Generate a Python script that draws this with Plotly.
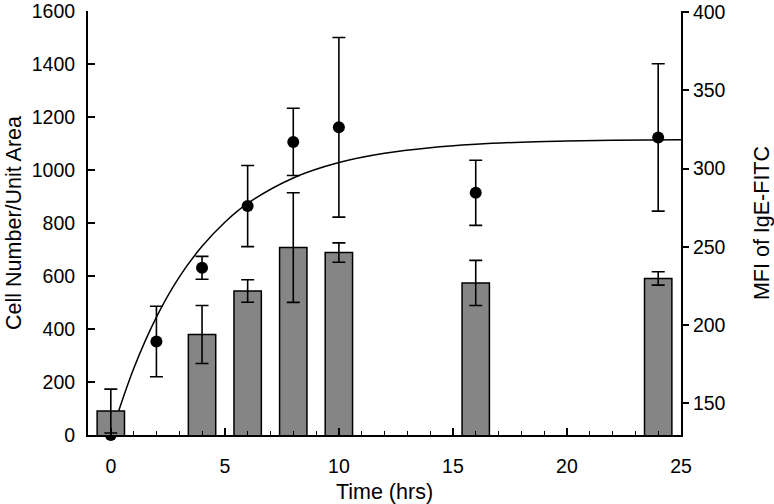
import plotly.graph_objects as go

# Data
time_pts = [0, 2, 4, 6, 8, 10, 16, 24]
cell_number = [0, 353, 631, 864, 1106, 1161, 914, 1123]
cell_err = [0, 133, 43, 153, 127, 339, 123, 278]

bar_time = [0, 4, 6, 8, 10, 16, 24]
mfi = [145.1, 194.0, 221.8, 249.5, 246.3, 226.9, 229.8]
mfi_err = [14, 18.5, 7.2, 35, 6.2, 14.4, 4.3]

curve_t = [0, 1, 2, 3, 4, 5, 6, 8, 10, 12, 14, 16, 18, 20, 22, 25]
curve_v = [0, 250, 445, 596, 712, 803, 874, 970, 1028, 1063, 1084, 1097, 1105, 1109, 1112, 1114]

font_family = "Liberation Sans, Arial, sans-serif"
tick_size = 19.5
title_size = 21.5

fig = go.Figure()

fig.add_trace(go.Scatter(
    x=curve_t, y=curve_v, mode="lines", line=dict(color="black", width=1.5, shape="spline"),
    yaxis="y", showlegend=False, hoverinfo="skip", cliponaxis=False))

fig.add_trace(go.Scatter(
    x=time_pts, y=cell_number, mode="markers",
    marker=dict(color="black", size=12),
    error_y=dict(type="data", array=cell_err, color="black", thickness=1.6, width=6.5),
    yaxis="y", showlegend=False, cliponaxis=False))

fig.add_trace(go.Bar(
    x=bar_time, y=mfi, width=1.2, base=0,
    marker=dict(color="#858585", line=dict(color="black", width=1.5)),
    error_y=dict(type="data", array=mfi_err, color="black", thickness=1.6, width=6.5),
    yaxis="y2", showlegend=False, cliponaxis=True))

fig.update_layout(
    width=774, height=504,
    margin=dict(l=88, r=93, t=11, b=69, autoexpand=False),
    paper_bgcolor="white", plot_bgcolor="white",
    font=dict(family=font_family, size=tick_size, color="black"),
    xaxis=dict(
        range=[-1, 25], tickvals=[0, 5, 10, 15, 20, 25],
        ticks="inside", ticklen=7, tickwidth=1.5, tickcolor="black",
        minor=dict(dtick=1, ticks="inside", ticklen=4, tickwidth=1.2, tickcolor="black"),
        showline=True, linecolor="black", linewidth=2, showgrid=False, zeroline=False,
        ticklabelstandoff=13, ticklabeloverflow="allow",
        title=dict(text="Time (hrs)", standoff=12, font=dict(size=title_size)),
        tickfont=dict(size=tick_size),
    ),
    yaxis=dict(
        range=[0, 1600], tickvals=[0, 200, 400, 600, 800, 1000, 1200, 1400, 1600],
        ticks="inside", ticklen=7, tickwidth=1.5, tickcolor="black",
        showline=True, linecolor="black", linewidth=2, showgrid=False, zeroline=False,
        ticklabelstandoff=7, ticklabeloverflow="allow",
        title=dict(text="Cell Number/Unit Area", standoff=4, font=dict(size=title_size)),
        tickfont=dict(size=tick_size),
    ),
    yaxis2=dict(
        range=[129.8, 400.6], tickvals=[150, 200, 250, 300, 350, 400],
        overlaying="y", side="right",
        ticks="outside", ticklen=6, tickwidth=1.5, tickcolor="black",
        showline=True, linecolor="black", linewidth=2, showgrid=False, zeroline=False,
        ticklabeloverflow="allow",
        title=dict(text="MFI of IgE-FITC", standoff=30, font=dict(size=title_size)),
        tickfont=dict(size=tick_size),
    ),
)

fig.write_html(
    "out.html",
    config={"displayModeBar": False},
    post_script="document.body.style.margin='0';document.body.style.overflow='hidden';",
)
